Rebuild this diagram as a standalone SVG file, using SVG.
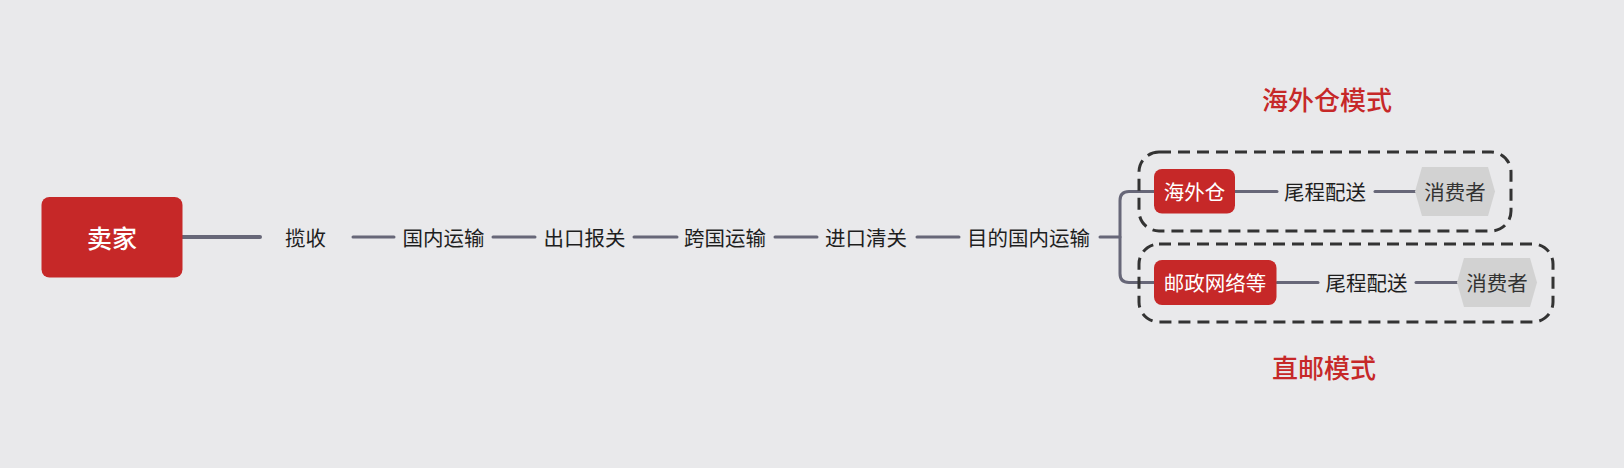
<svg xmlns="http://www.w3.org/2000/svg" width="1624" height="468" viewBox="0 0 1624 468">
<style>
text{font-family:"Noto Sans CJK SC","Noto Sans",sans-serif;text-anchor:middle;dominant-baseline:central}
.t{font-size:20.5px;fill:#1e1e1e}
.w{font-size:20.5px;fill:#ffffff}
.title{font-size:26px;fill:#c62828;font-weight:500}
.red{fill:#c62828}
.hex{fill:#d2d2d2}
.ln{stroke:#676778;stroke-width:3;fill:none;stroke-linecap:round}
.box{fill:none;stroke:#333333;stroke-width:3;stroke-dasharray:12 7}
</style>
<rect width="1624" height="468" fill="#e9e9eb"/>
<g id="connectors">
<line class="ln" x1="182" y1="237" x2="260" y2="237" style="stroke-width:4"/>
<line class="ln" x1="353" y1="237" x2="394" y2="237"/>
<line class="ln" x1="493" y1="237" x2="535" y2="237"/>
<line class="ln" x1="634" y1="237" x2="677" y2="237"/>
<line class="ln" x1="775" y1="237" x2="817" y2="237"/>
<line class="ln" x1="917" y1="237" x2="959" y2="237"/>
<line class="ln" x1="1100" y1="237" x2="1120" y2="237"/>
<path class="ln" d="M1154,191.5 H1129 Q1120,191.5 1120,200.5 V273.5 Q1120,282.5 1129,282.5 H1154"/>
<line class="ln" x1="1235" y1="191.5" x2="1277" y2="191.5"/>
<line class="ln" x1="1375" y1="191.5" x2="1416" y2="191.5"/>
<line class="ln" x1="1277" y1="282.5" x2="1318" y2="282.5"/>
<line class="ln" x1="1416" y1="282.5" x2="1457" y2="282.5"/>
</g>
<g id="seller"><rect class="red" x="41.5" y="197" width="141" height="80.5" rx="8"/><text x="112" y="237" style="font-size:25px;fill:#fff;font-weight:500">卖家</text></g>
<g id="pickup"><text class="t" x="305.5" y="237">揽收</text></g>
<g id="domestic"><text class="t" x="443.5" y="237">国内运输</text></g>
<g id="export"><text class="t" x="584.5" y="237">出口报关</text></g>
<g id="cross"><text class="t" x="725" y="237">跨国运输</text></g>
<g id="import"><text class="t" x="866" y="237">进口清关</text></g>
<g id="dest"><text class="t" x="1028.5" y="237">目的国内运输</text></g>
<g id="mode1"><rect class="box" x="1139" y="152" width="372" height="79" rx="20"/><text class="title" x="1327" y="98">海外仓模式</text></g>
<g id="mode2"><rect class="box" x="1139" y="244" width="414" height="78" rx="20"/><text class="title" x="1324" y="366">直邮模式</text></g>
<g id="warehouse"><rect class="red" x="1154" y="169" width="81" height="44.5" rx="8"/><text class="w" x="1194.5" y="191">海外仓</text></g>
<g id="lastmile1"><text class="t" x="1325" y="191">尾程配送</text></g>
<g id="consumer1"><polygon class="hex" points="1415,191.5 1422,167 1488,167 1495,191.5 1488,216 1422,216"/><text class="t" x="1455" y="191" style="fill:#333">消费者</text></g>
<g id="post"><rect class="red" x="1154" y="260" width="122.5" height="45" rx="8"/><text class="w" x="1215" y="282">邮政网络等</text></g>
<g id="lastmile2"><text class="t" x="1366.5" y="282">尾程配送</text></g>
<g id="consumer2"><polygon class="hex" points="1457,282.5 1464,258 1530,258 1537,282.5 1530,307 1464,307"/><text class="t" x="1497" y="282" style="fill:#333">消费者</text></g>
</svg>
